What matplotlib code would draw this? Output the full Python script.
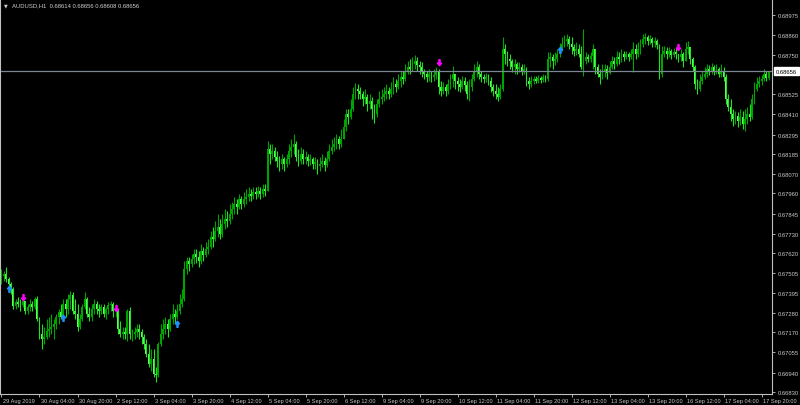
import numpy as np
import matplotlib
matplotlib.use("Agg")
import matplotlib.pyplot as plt
import matplotlib.transforms as mtrans
from matplotlib.path import Path

plt.rcParams["font.family"] = ["Liberation Sans", "DejaVu Sans"]

# AUDUSD H1, 29 Aug 2019 12:00 .. 17 Sep 2019 23:00, prices in points (1e-5)
first_open = 67473
closes = [
    67490, 67501, 67473, 67444, 67416, 67319, 67342, 67331, 67325, 67348, 67291, 67314, 67331, 67314, 67359, 67245,
    67160, 67131, 67143, 67177, 67188, 67200, 67217, 67257, 67285, 67257, 67331, 67302, 67359, 67382, 67291, 67274,
    67200, 67245, 67314, 67359, 67274, 67257, 67302, 67331, 67302, 67291, 67314, 67274, 67302, 67325, 67331, 67291,
    67302, 67188, 67160, 67171, 67160, 67291, 67160, 67160, 67171, 67188, 67171, 67143, 67103, 67046, 66989, 67018,
    66932, 66927, 67103, 67160, 67188, 67217, 67188, 67245, 67274, 67257, 67291, 67331, 67359, 67530, 67575, 67558,
    67587, 67615, 67598, 67575, 67632, 67609, 67644, 67655, 67712, 67700, 67746, 67769, 67729, 67786, 67814, 67803,
    67843, 67871, 67900, 67883, 67928, 67900, 67928, 67940, 67957, 67945, 67968, 67957, 67974, 67957, 67985, 67974,
    68213, 68184, 68201, 68167, 68144, 68127, 68156, 68127, 68156, 68201, 68224, 68241, 68167, 68144, 68184, 68156,
    68167, 68144, 68156, 68127, 68139, 68116, 68127, 68144, 68121, 68156, 68201, 68224, 68241, 68270, 68241, 68270,
    68338, 68412, 68395, 68440, 68525, 68554, 68543, 68525, 68497, 68508, 68469, 68486, 68440, 68412, 68469, 68497,
    68508, 68525, 68543, 68525, 68554, 68582, 68565, 68599, 68622, 68611, 68656, 68679, 68668, 68696, 68713, 68690,
    68679, 68656, 68639, 68622, 68639, 68622, 68634, 68656, 68565, 68543, 68565, 68543, 68582, 68611, 68639, 68599,
    68582, 68565, 68599, 68577, 68525, 68565, 68611, 68656, 68679, 68639, 68622, 68611, 68622, 68599, 68565, 68543,
    68525, 68508, 68554, 68782, 68753, 68725, 68713, 68679, 68696, 68668, 68679, 68656, 68668, 68599, 68582, 68599,
    68611, 68599, 68617, 68605, 68622, 68611, 68725, 68736, 68713, 68725, 68753, 68782, 68810, 68827, 68838, 68810,
    68793, 68770, 68782, 68753, 68679, 68713, 68736, 68725, 68742, 68782, 68679, 68639, 68622, 68656, 68668, 68645,
    68679, 68713, 68696, 68736, 68725, 68753, 68736, 68753, 68736, 68753, 68782, 68753, 68782, 68810, 68838, 68850,
    68827, 68838, 68816, 68827, 68804, 68639, 68753, 68770, 68753, 68770, 68747, 68764, 68753, 68736, 68753, 68713,
    68782, 68793, 68725, 68679, 68582, 68554, 68599, 68622, 68639, 68668, 68656, 68679, 68656, 68668, 68639, 68656,
    68622, 68497, 68451, 68412, 68383, 68400, 68372, 68395, 68355, 68383, 68412, 68395, 68497, 68554, 68582, 68599,
    68611, 68639, 68614, 68656,
]
highs = [
    67530, 67518, 67541, 67484, 67456, 67427, 67359, 67370, 67359, 67370, 67342, 67331, 67359, 67348, 67370, 67376,
    67257, 67217, 67200, 67245, 67257, 67274, 67245, 67274, 67302, 67331, 67359, 67359, 67387, 67405, 67399, 67359,
    67331, 67274, 67331, 67399, 67370, 67314, 67331, 67359, 67348, 67331, 67331, 67331, 67314, 67342, 67348, 67342,
    67331, 67302, 67234, 67200, 67200, 67302, 67314, 67188, 67200, 67217, 67217, 67188, 67160, 67131, 67103, 67074,
    67074, 66972, 67114, 67217, 67245, 67257, 67245, 67274, 67331, 67302, 67331, 67387, 67416, 67575, 67598, 67598,
    67615, 67644, 67644, 67632, 67672, 67655, 67683, 67700, 67746, 67769, 67803, 67843, 67814, 67843, 67871, 67860,
    67900, 67911, 67940, 67928, 67957, 67945, 67968, 67985, 67996, 67985, 67996, 67996, 68002, 67996, 68013, 68013,
    68258, 68241, 68241, 68224, 68201, 68173, 68184, 68167, 68184, 68241, 68270, 68298, 68258, 68213, 68224, 68213,
    68201, 68184, 68184, 68167, 68167, 68156, 68167, 68184, 68167, 68201, 68241, 68270, 68281, 68298, 68286, 68326,
    68383, 68440, 68440, 68497, 68565, 68588, 68582, 68565, 68543, 68554, 68525, 68525, 68508, 68469, 68497, 68543,
    68554, 68565, 68582, 68565, 68594, 68622, 68611, 68639, 68656, 68656, 68696, 68713, 68725, 68736, 68747, 68736,
    68713, 68708, 68668, 68656, 68668, 68656, 68668, 68679, 68668, 68599, 68594, 68582, 68611, 68639, 68685, 68639,
    68622, 68611, 68628, 68622, 68599, 68611, 68639, 68696, 68713, 68696, 68656, 68639, 68645, 68639, 68622, 68582,
    68582, 68565, 68582, 68850, 68810, 68770, 68753, 68725, 68725, 68708, 68708, 68696, 68696, 68679, 68622, 68628,
    68628, 68628, 68634, 68628, 68639, 68634, 68764, 68764, 68753, 68764, 68782, 68816, 68850, 68861, 68867, 68855,
    68850, 68810, 68821, 68810, 68799, 68895, 68764, 68753, 68764, 68810, 68753, 68696, 68668, 68696, 68696, 68690,
    68713, 68742, 68736, 68770, 68764, 68782, 68770, 68770, 68764, 68782, 68821, 68810, 68821, 68838, 68867, 68873,
    68861, 68861, 68850, 68850, 68838, 68810, 68799, 68799, 68793, 68793, 68782, 68787, 68793, 68753, 68782, 68764,
    68821, 68827, 68793, 68736, 68690, 68611, 68639, 68656, 68679, 68696, 68690, 68702, 68690, 68696, 68679, 68696,
    68679, 68639, 68525, 68497, 68440, 68429, 68423, 68440, 68429, 68440, 68451, 68469, 68525, 68594, 68622, 68628,
    68634, 68668, 68656, 68656,
]
lows = [
    67444, 67461, 67456, 67416, 67387, 67302, 67302, 67314, 67291, 67314, 67274, 67274, 67291, 67291, 67302, 67234,
    67131, 67074, 67103, 67131, 67143, 67160, 67131, 67188, 67217, 67245, 67234, 67257, 67274, 67302, 67274, 67245,
    67177, 67188, 67234, 67302, 67257, 67234, 67234, 67274, 67274, 67257, 67274, 67257, 67245, 67274, 67291, 67257,
    67257, 67160, 67143, 67131, 67131, 67120, 67131, 67120, 67131, 67143, 67131, 67103, 67074, 67029, 66972, 66949,
    66915, 66887, 66915, 67092, 67131, 67160, 67143, 67177, 67217, 67217, 67245, 67274, 67314, 67348, 67501, 67518,
    67541, 67558, 67564, 67541, 67558, 67575, 67598, 67615, 67644, 67655, 67689, 67712, 67700, 67712, 67757, 67769,
    67786, 67814, 67843, 67843, 67871, 67871, 67883, 67900, 67917, 67917, 67928, 67928, 67940, 67928, 67940, 67945,
    67985, 68127, 68156, 68144, 68110, 68087, 68099, 68087, 68110, 68127, 68167, 68184, 68144, 68116, 68127, 68127,
    68127, 68116, 68121, 68099, 68099, 68070, 68087, 68110, 68087, 68110, 68144, 68184, 68201, 68213, 68213, 68224,
    68270, 68315, 68355, 68383, 68429, 68497, 68497, 68497, 68457, 68469, 68429, 68440, 68383, 68360, 68395, 68451,
    68469, 68486, 68497, 68497, 68508, 68525, 68537, 68554, 68565, 68582, 68599, 68639, 68639, 68656, 68668, 68656,
    68639, 68622, 68611, 68594, 68599, 68594, 68599, 68611, 68525, 68514, 68525, 68514, 68525, 68554, 68565, 68554,
    68543, 68537, 68554, 68543, 68497, 68486, 68543, 68599, 68622, 68611, 68594, 68588, 68594, 68577, 68537, 68514,
    68497, 68486, 68497, 68543, 68696, 68685, 68668, 68651, 68639, 68639, 68651, 68634, 68639, 68571, 68554, 68565,
    68582, 68588, 68588, 68588, 68594, 68594, 68599, 68679, 68668, 68690, 68708, 68736, 68770, 68793, 68799, 68782,
    68753, 68742, 68747, 68736, 68668, 68628, 68696, 68708, 68708, 68668, 68639, 68622, 68582, 68611, 68622, 68611,
    68639, 68668, 68668, 68685, 68696, 68708, 68713, 68725, 68713, 68725, 68651, 68725, 68736, 68753, 68793, 68810,
    68804, 68810, 68793, 68793, 68782, 68611, 68622, 68736, 68725, 68736, 68725, 68736, 68725, 68708, 68713, 68679,
    68725, 68753, 68696, 68656, 68554, 68525, 68543, 68582, 68611, 68622, 68634, 68639, 68634, 68639, 68622, 68622,
    68599, 68469, 68429, 68372, 68343, 68355, 68338, 68349, 68326, 68315, 68355, 68372, 68383, 68469, 68543, 68565,
    68577, 68599, 68599, 68608,
]

date_labels = ["29 Aug 2019", "30 Aug 04:00", "30 Aug 20:00", "2 Sep 12:00", "3 Sep 04:00",
               "3 Sep 20:00", "4 Sep 12:00", "5 Sep 04:00", "5 Sep 20:00", "6 Sep 12:00",
               "9 Sep 04:00", "9 Sep 20:00", "10 Sep 12:00", "11 Sep 04:00", "11 Sep 20:00",
               "12 Sep 12:00", "13 Sep 04:00", "13 Sep 20:00", "16 Sep 12:00", "17 Sep 04:00",
               "17 Sep 20:00"]
date_bars = list(range(0, 321, 16))

price_ticks = [0.68975, 0.68860, 0.68750, 0.68525, 0.68410, 0.68295, 0.68185,
               0.68070, 0.67960, 0.67845, 0.67730, 0.67620, 0.67505, 0.67395, 0.67280,
               0.67170, 0.67055, 0.66940, 0.66830]

last_price = 0.68656
sell_arrows = [(9, 0.67365), (48, 0.67305), (184, 0.68700), (285, 0.68785)]
buy_arrows = [(3, 0.67420), (26, 0.67255), (74, 0.67225), (235, 0.68780)]

c = np.array(closes) / 1e5
o = np.concatenate([[first_open], closes[:-1]]) / 1e5
o[-1] = 0.68614
h = np.maximum(np.array(highs) / 1e5, np.maximum(o, c))
l = np.minimum(np.array(lows) / 1e5, np.minimum(o, c))
idx = np.arange(len(c))

fig = plt.figure(figsize=(8, 4.06), dpi=100, facecolor="black")
ax = fig.add_axes([0, 11 / 406, 772 / 800, 394 / 406], facecolor="black")

up = c >= o
bull_col, bear_col = "#00a400", "#5cff5c"
cols = np.where(up, bull_col, bear_col)
ax.vlines(idx, l, h, colors=np.where(up, "#00a400", "#22e022"), linewidth=0.8)
body = np.maximum(np.abs(c - o), 0.000015)
ax.bar(idx, body, bottom=np.minimum(o, c), width=0.75, color=cols, linewidth=0)

ax.axhline(last_price, color="#7a8794", linewidth=0.9)

# arrow markers (thin shaft, wide head)
down_arrow = Path([(-0.15, 1), (0.15, 1), (0.15, 0.1), (0.55, 0.1), (0, -0.6),
                   (-0.55, 0.1), (-0.15, 0.1), (-0.15, 1)], closed=True)
up_arrow = Path([(x, -y) for x, y in down_arrow.vertices], closed=True)
for b, p in sell_arrows:
    ax.plot(b, p, marker=down_arrow, markersize=5.5, color="#ff00ff", linestyle="none")
for b, p in buy_arrows:
    ax.plot(b, p, marker=up_arrow, markersize=5.5, color="#1e90ff", linestyle="none")

ax.set_xlim(-0.63, 324.4)
ax.set_ylim(0.668185, 0.690604)

ax.yaxis.tick_right()
ax.set_yticks(price_ticks)
ax.set_yticklabels([f"{p:.5f}" for p in price_ticks])
ax.tick_params(axis="y", colors="#c8c8c8", labelsize=4.2, length=2.5, width=0.6, pad=1.5)
ax.set_xticks(date_bars)
ax.set_xticklabels(date_labels, ha="left")
ax.tick_params(axis="x", colors="#c8c8c8", labelsize=4.1, length=2.5, width=0.6, pad=0.5)
offset = mtrans.ScaledTranslation(1.5 / 100, 0, fig.dpi_scale_trans)
for lab in ax.get_xticklabels():
    lab.set_transform(lab.get_transform() + offset)

for side in ["left", "right", "bottom"]:
    ax.spines[side].set_color("#c0c0c0")
    ax.spines[side].set_linewidth(0.8)
ax.spines["top"].set_visible(False)

trans = mtrans.blended_transform_factory(ax.transAxes, ax.transData)
ax.text(1.0055, last_price, f"{last_price:.5f}", transform=trans, fontsize=4.2,
        color="black", ha="left", va="center",
        bbox=dict(boxstyle="square,pad=0.3", facecolor="white", edgecolor="white"))

fig.text(4 / 800, 1 - 6 / 406, "\u25bc", color="#d0d0d0", fontsize=3.5, va="center",
         family="DejaVu Sans")
fig.text(12 / 800, 1 - 6 / 406, "AUDUSD,H1  0.68614 0.68656 0.68608 0.68656",
         color="#d0d0d0", fontsize=4.2, va="center")

fig.savefig("out.png", dpi=100, facecolor="black")
